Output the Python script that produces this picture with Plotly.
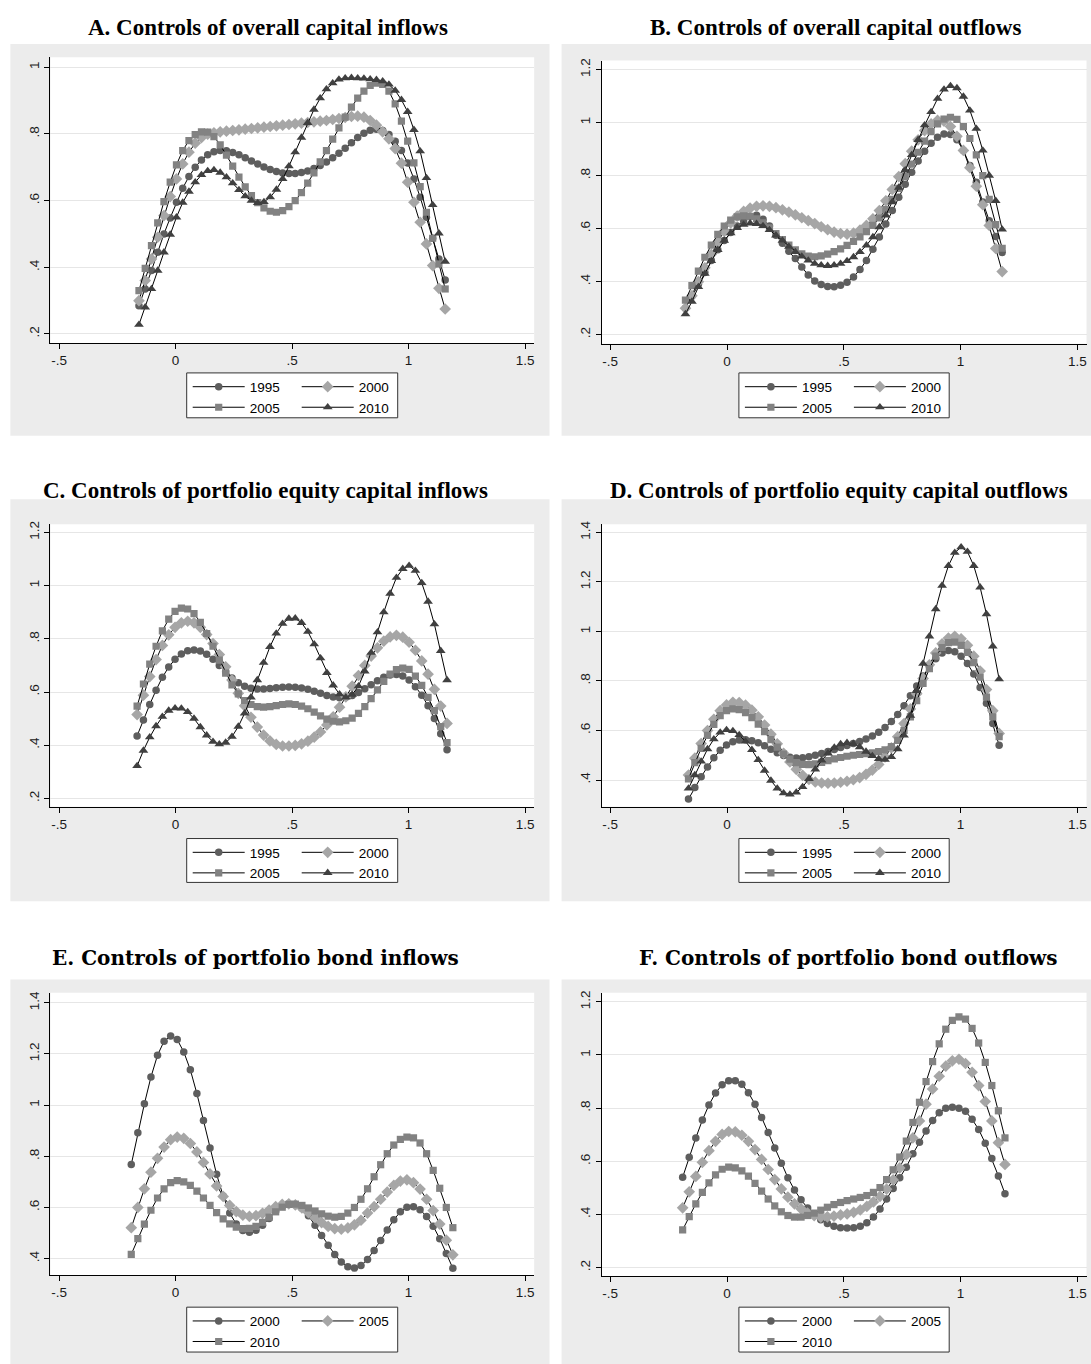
import numpy as np
import plotly.graph_objects as go

W, H = 1091, 1364

# ---------------- data ----------------
X_TICKS = [-0.5, 0, 0.5, 1, 1.5]
X_TICK_TEXT = ["-.5", "0", ".5", "1", "1.5"]

YEARS_4 = ["1995", "2000", "2005", "2010"]
YEARS_3 = ["2000", "2005", "2010"]

# x-grid endpoints of each panel (50 evaluation points)
X_RANGE_A = [-0.157, 1.157]
X_RANGE_B = [-0.178, 1.178]
X_RANGE_C = [-0.165, 1.165]
X_RANGE_D = [-0.165, 1.165]
X_RANGE_E = [-0.190, 1.190]
X_RANGE_F = [-0.190, 1.190]

A_1995 = [0.285, 0.335, 0.39, 0.445, 0.50, 0.548, 0.595, 0.637, 0.672, 0.70,
          0.722, 0.737, 0.746, 0.75, 0.749, 0.744, 0.737, 0.728, 0.719, 0.71,
          0.701, 0.693, 0.687, 0.683, 0.681, 0.681, 0.684, 0.689, 0.696, 0.705,
          0.716, 0.728, 0.742, 0.757, 0.773, 0.789, 0.802, 0.811, 0.814, 0.81,
          0.798, 0.778, 0.75, 0.713, 0.665, 0.61, 0.55, 0.487, 0.425, 0.362]
A_2000 = [0.30, 0.36, 0.425, 0.49, 0.555, 0.612, 0.665, 0.71, 0.745, 0.772,
          0.789, 0.799, 0.803, 0.806, 0.808, 0.81, 0.812, 0.814, 0.816, 0.818,
          0.82, 0.822, 0.824, 0.826, 0.828, 0.83, 0.832, 0.834, 0.836, 0.838,
          0.84, 0.843, 0.846, 0.849, 0.852, 0.853, 0.85, 0.84, 0.826, 0.806,
          0.785, 0.756, 0.712, 0.655, 0.595, 0.535, 0.47, 0.405, 0.337, 0.275]
A_2005 = [0.33, 0.397, 0.465, 0.533, 0.597, 0.655, 0.707, 0.75, 0.78, 0.798,
          0.806, 0.805, 0.792, 0.767, 0.736, 0.703, 0.67, 0.641, 0.615, 0.594,
          0.578, 0.568, 0.565, 0.57, 0.582, 0.6, 0.624, 0.652, 0.683, 0.716,
          0.75, 0.784, 0.818, 0.85, 0.88, 0.907, 0.928, 0.945, 0.952, 0.948,
          0.928, 0.89, 0.838, 0.778, 0.713, 0.642, 0.565, 0.487, 0.41, 0.335]
A_2010 = [0.228, 0.28, 0.335, 0.39, 0.445, 0.498, 0.55, 0.594, 0.627, 0.655,
          0.677, 0.689, 0.692, 0.684, 0.67, 0.652, 0.632, 0.613, 0.6, 0.593,
          0.596, 0.61, 0.633, 0.665, 0.703, 0.745, 0.789, 0.833, 0.873, 0.907,
          0.934, 0.952, 0.963, 0.967, 0.968, 0.967, 0.966, 0.964, 0.962, 0.958,
          0.948, 0.93, 0.902, 0.866, 0.812, 0.748, 0.668, 0.587, 0.502, 0.417]

B_1995 = [0.30, 0.345, 0.39, 0.435, 0.48, 0.52, 0.555, 0.585, 0.61, 0.63,
          0.645, 0.65, 0.635, 0.61, 0.575, 0.545, 0.515, 0.487, 0.455, 0.425,
          0.402, 0.389, 0.382, 0.381, 0.386, 0.398, 0.418, 0.446, 0.48, 0.522,
          0.568, 0.617, 0.668, 0.718, 0.767, 0.813, 0.855, 0.892, 0.922, 0.945,
          0.957, 0.955, 0.935, 0.895, 0.838, 0.775, 0.70, 0.63, 0.57, 0.51]
B_2000 = [0.30, 0.347, 0.40, 0.452, 0.503, 0.55, 0.59, 0.622, 0.647, 0.665,
          0.677, 0.684, 0.686, 0.684, 0.679, 0.671, 0.662, 0.652, 0.641, 0.63,
          0.619, 0.607, 0.596, 0.587, 0.581, 0.579, 0.583, 0.594, 0.612, 0.637,
          0.668, 0.705, 0.748, 0.796, 0.845, 0.892, 0.935, 0.97, 0.995, 1.008,
          1.005, 0.985, 0.948, 0.895, 0.83, 0.76, 0.69, 0.612, 0.525, 0.438]
B_2005 = [0.33, 0.385, 0.44, 0.492, 0.538, 0.578, 0.61, 0.632, 0.644, 0.648,
          0.646, 0.637, 0.622, 0.603, 0.581, 0.559, 0.538, 0.52, 0.505, 0.496,
          0.494, 0.497, 0.504, 0.513, 0.524, 0.537, 0.552, 0.569, 0.589, 0.612,
          0.64, 0.672, 0.71, 0.752, 0.797, 0.843, 0.888, 0.93, 0.966, 0.995,
          1.013, 1.02, 1.012, 0.985, 0.94, 0.878, 0.80, 0.71, 0.615, 0.526]
B_2010 = [0.278, 0.325, 0.38, 0.43, 0.478, 0.52, 0.555, 0.583, 0.603, 0.615,
          0.62, 0.618, 0.61, 0.595, 0.575, 0.555, 0.532, 0.512, 0.495, 0.48,
          0.468, 0.462, 0.46, 0.462, 0.468, 0.478, 0.493, 0.512, 0.537, 0.568,
          0.606, 0.65, 0.70, 0.755, 0.82, 0.878, 0.935, 0.99, 1.04, 1.09,
          1.125, 1.138, 1.13, 1.098, 1.046, 0.977, 0.895, 0.80, 0.705, 0.597]

C_1995 = [0.435, 0.495, 0.553, 0.607, 0.655, 0.694, 0.723, 0.743, 0.755, 0.758,
          0.754, 0.742, 0.723, 0.70, 0.676, 0.653, 0.635, 0.622, 0.614, 0.611,
          0.611, 0.613, 0.616, 0.618, 0.619, 0.618, 0.615, 0.61, 0.603, 0.595,
          0.587, 0.581, 0.578, 0.58, 0.587, 0.598, 0.612, 0.627, 0.642, 0.655,
          0.664, 0.666, 0.66, 0.645, 0.62, 0.588, 0.548, 0.50, 0.443, 0.383]
C_2000 = [0.515, 0.588, 0.658, 0.722, 0.775, 0.815, 0.843, 0.86, 0.866, 0.86,
          0.843, 0.816, 0.782, 0.741, 0.695, 0.645, 0.595, 0.548, 0.505, 0.468,
          0.438, 0.416, 0.403, 0.397, 0.397, 0.399, 0.405, 0.415, 0.43, 0.45,
          0.476, 0.507, 0.543, 0.582, 0.622, 0.662, 0.70, 0.735, 0.766, 0.791,
          0.807, 0.813, 0.806, 0.787, 0.757, 0.717, 0.667, 0.61, 0.547, 0.482]
C_2005 = [0.547, 0.63, 0.705, 0.772, 0.83, 0.874, 0.903, 0.915, 0.912, 0.895,
          0.862, 0.82, 0.772, 0.72, 0.671, 0.627, 0.593, 0.568, 0.553, 0.545,
          0.543, 0.545, 0.549, 0.553, 0.555, 0.553, 0.547, 0.537, 0.524, 0.51,
          0.498, 0.49, 0.488, 0.492, 0.502, 0.52, 0.545, 0.575, 0.608, 0.64,
          0.667, 0.684, 0.69, 0.685, 0.66, 0.625, 0.58, 0.53, 0.47, 0.41]
C_2010 = [0.322, 0.38, 0.43, 0.472, 0.507, 0.53, 0.539, 0.538, 0.525, 0.50,
          0.468, 0.437, 0.413, 0.404, 0.41, 0.432, 0.47, 0.52, 0.58, 0.645,
          0.71, 0.77, 0.82, 0.857, 0.876, 0.877, 0.86, 0.827, 0.78, 0.727,
          0.672, 0.625, 0.592, 0.58, 0.59, 0.622, 0.678, 0.748, 0.825, 0.90,
          0.97, 1.03, 1.063, 1.075, 1.056, 1.01, 0.94, 0.855, 0.755, 0.645]

D_1995 = [0.323, 0.37, 0.413, 0.453, 0.49, 0.52, 0.541, 0.555, 0.562, 0.563,
          0.559, 0.55, 0.538, 0.524, 0.51, 0.499, 0.492, 0.489, 0.49, 0.494,
          0.50, 0.507, 0.515, 0.523, 0.531, 0.539, 0.547, 0.556, 0.566, 0.578,
          0.593, 0.612, 0.636, 0.665, 0.70, 0.74, 0.78, 0.82, 0.858, 0.89,
          0.913, 0.923, 0.918, 0.90, 0.87, 0.828, 0.774, 0.71, 0.628, 0.54]
D_2000 = [0.42, 0.488, 0.547, 0.60, 0.645, 0.68, 0.703, 0.714, 0.713, 0.702,
          0.682, 0.655, 0.622, 0.585, 0.546, 0.508, 0.473, 0.443, 0.419, 0.402,
          0.392, 0.388, 0.387, 0.388, 0.391, 0.395, 0.401, 0.41, 0.423, 0.44,
          0.463, 0.493, 0.53, 0.575, 0.628, 0.687, 0.748, 0.81, 0.865, 0.913,
          0.95, 0.973, 0.98, 0.97, 0.944, 0.90, 0.84, 0.765, 0.68, 0.588]
D_2005 = [0.405, 0.47, 0.528, 0.58, 0.625, 0.66, 0.68, 0.687, 0.684, 0.672,
          0.652, 0.626, 0.595, 0.563, 0.533, 0.505, 0.484, 0.47, 0.463, 0.462,
          0.465, 0.471, 0.478, 0.485, 0.491, 0.496, 0.50, 0.503, 0.506, 0.51,
          0.515, 0.522, 0.535, 0.56, 0.60, 0.655, 0.72, 0.79, 0.85, 0.90,
          0.935, 0.955, 0.957, 0.944, 0.915, 0.874, 0.815, 0.735, 0.655, 0.575]
D_2010 = [0.366, 0.42, 0.475, 0.525, 0.565, 0.592, 0.602, 0.598, 0.582, 0.556,
          0.522, 0.481, 0.438, 0.398, 0.366, 0.347, 0.342, 0.35, 0.372, 0.405,
          0.443, 0.479, 0.508, 0.531, 0.545, 0.55, 0.546, 0.533, 0.515, 0.497,
          0.485, 0.482, 0.493, 0.525, 0.58, 0.66, 0.76, 0.87, 0.98, 1.09,
          1.185, 1.265, 1.318, 1.34, 1.322, 1.265, 1.178, 1.07, 0.94, 0.807]

E_2000 = [0.768, 0.892, 1.005, 1.11, 1.195, 1.25, 1.27, 1.256, 1.208, 1.138,
          1.045, 0.94, 0.832, 0.73, 0.645, 0.578, 0.535, 0.51, 0.503, 0.511,
          0.53, 0.557, 0.585, 0.605, 0.614, 0.611, 0.597, 0.568, 0.53, 0.49,
          0.452, 0.416, 0.387, 0.368, 0.363, 0.373, 0.397, 0.432, 0.471, 0.512,
          0.552, 0.583, 0.601, 0.603, 0.591, 0.565, 0.527, 0.478, 0.42, 0.362]
E_2005 = [0.521, 0.60, 0.673, 0.738, 0.792, 0.836, 0.865, 0.875, 0.87, 0.85,
          0.817, 0.776, 0.731, 0.684, 0.643, 0.608, 0.584, 0.57, 0.565, 0.568,
          0.577, 0.59, 0.603, 0.612, 0.614, 0.61, 0.598, 0.58, 0.56, 0.541,
          0.526, 0.517, 0.515, 0.52, 0.532, 0.55, 0.578, 0.603, 0.632, 0.66,
          0.686, 0.703, 0.708, 0.697, 0.672, 0.632, 0.588, 0.535, 0.472, 0.415]
E_2010 = [0.417, 0.478, 0.535, 0.589, 0.637, 0.673, 0.697, 0.705, 0.70, 0.686,
          0.664, 0.637, 0.608, 0.58, 0.555, 0.536, 0.523, 0.517, 0.518, 0.526,
          0.542, 0.562, 0.583, 0.601, 0.612, 0.613, 0.608, 0.598, 0.586, 0.575,
          0.566, 0.562, 0.565, 0.578, 0.60, 0.632, 0.673, 0.72, 0.767, 0.81,
          0.844, 0.866, 0.875, 0.872, 0.852, 0.81, 0.745, 0.675, 0.60, 0.521]

F_2000 = [0.54, 0.615, 0.688, 0.755, 0.812, 0.857, 0.888, 0.903, 0.903, 0.89,
          0.858, 0.815, 0.765, 0.708, 0.65, 0.593, 0.538, 0.492, 0.455, 0.424,
          0.399, 0.38, 0.366, 0.356, 0.35, 0.349, 0.35, 0.356, 0.369, 0.39,
          0.42, 0.458, 0.498, 0.538, 0.578, 0.628, 0.672, 0.714, 0.753, 0.783,
          0.80, 0.803, 0.80, 0.788, 0.758, 0.72, 0.668, 0.61, 0.545, 0.478]
F_2005 = [0.425, 0.485, 0.543, 0.596, 0.64, 0.675, 0.701, 0.712, 0.711, 0.698,
          0.675, 0.644, 0.607, 0.569, 0.531, 0.496, 0.465, 0.44, 0.421, 0.405,
          0.395, 0.39, 0.391, 0.394, 0.398, 0.402, 0.408, 0.417, 0.43, 0.447,
          0.468, 0.495, 0.53, 0.575, 0.625, 0.688, 0.752, 0.815, 0.872, 0.92,
          0.958, 0.978, 0.984, 0.968, 0.935, 0.885, 0.825, 0.752, 0.67, 0.588]
F_2010 = [0.342, 0.392, 0.44, 0.483, 0.519, 0.549, 0.57, 0.578, 0.575, 0.564,
          0.544, 0.517, 0.488, 0.458, 0.432, 0.41, 0.396, 0.39, 0.39, 0.396,
          0.405, 0.416, 0.427, 0.437, 0.445, 0.452, 0.458, 0.464, 0.471, 0.483,
          0.501, 0.531, 0.568, 0.616, 0.676, 0.746, 0.822, 0.90, 0.975, 1.042,
          1.097, 1.13, 1.143, 1.135, 1.10, 1.045, 0.972, 0.885, 0.79, 0.688]

Y_TICKS_A = [0.2, 0.4, 0.6, 0.8, 1.0]
Y_TEXT_A = [".2", ".4", ".6", ".8", "1"]
Y_TICKS_B = [0.2, 0.4, 0.6, 0.8, 1.0, 1.2]
Y_TEXT_B = [".2", ".4", ".6", ".8", "1", "1.2"]
Y_TICKS_D = [0.4, 0.6, 0.8, 1.0, 1.2, 1.4]
Y_TEXT_D = [".4", ".6", ".8", "1", "1.2", "1.4"]

TITLES = ["A. Controls of overall capital inflows",
          "B. Controls of overall capital outflows",
          "C. Controls of portfolio equity capital inflows",
          "D. Controls of portfolio equity capital outflows",
          "E. Controls of portfolio bond inflows",
          "F. Controls of portfolio bond outflows"]

# ---------------- styles ----------------
STYLE = {
    "1995": dict(symbol="circle", color="#5e5e5e", size=7.5),
    "2000": dict(symbol="diamond", color="#a6a6a6", size=9),
    "2005": dict(symbol="square", color="#828282", size=7.2),
    "2010": dict(symbol="triangle-up", color="#404040", size=8.5),
}
STYLE_EF = {
    "2000": STYLE["1995"],
    "2005": STYLE["2000"],
    "2010": STYLE["2005"],
}

panels = [
    dict(title=TITLES[0], xr=X_RANGE_A, names=YEARS_4, ys=[A_1995, A_2000, A_2005, A_2010],
         yt=Y_TICKS_A, ytt=Y_TEXT_A, yrange=[0.173, 1.03], style=STYLE, tfont="Liberation Serif"),
    dict(title=TITLES[1], xr=X_RANGE_B, names=YEARS_4, ys=[B_1995, B_2000, B_2005, B_2010],
         yt=Y_TICKS_B, ytt=Y_TEXT_B, yrange=[0.166, 1.234], style=STYLE, tfont="Liberation Serif"),
    dict(title=TITLES[2], xr=X_RANGE_C, names=YEARS_4, ys=[C_1995, C_2000, C_2005, C_2010],
         yt=Y_TICKS_B, ytt=Y_TEXT_B, yrange=[0.169, 1.231], style=STYLE, tfont="Liberation Serif"),
    dict(title=TITLES[3], xr=X_RANGE_D, names=YEARS_4, ys=[D_1995, D_2000, D_2005, D_2010],
         yt=Y_TICKS_D, ytt=Y_TEXT_D, yrange=[0.2925, 1.433], style=STYLE, tfont="Liberation Serif"),
    dict(title=TITLES[4], xr=X_RANGE_E, names=YEARS_3, ys=[E_2000, E_2005, E_2010],
         yt=Y_TICKS_D, ytt=Y_TEXT_D, yrange=[0.335, 1.439], style=STYLE_EF, tfont="DejaVu Serif"),
    dict(title=TITLES[5], xr=X_RANGE_F, names=YEARS_3, ys=[F_2000, F_2005, F_2010],
         yt=Y_TICKS_B, ytt=Y_TEXT_B, yrange=[0.1685, 1.234], style=STYLE_EF, tfont="DejaVu Serif"),
]

# ---------------- geometry (pixels) ----------------
PLOT_BOX = [(50.4, 534.2, 53.3, 340.0), (601.6, 1086.5, 56.7, 340.7),
            (50.4, 534.2, 521.7, 805.0), (601.6, 1086.5, 521.7, 805.0),
            (50.4, 534.2, 991.7, 1275.0), (601.6, 1086.5, 991.7, 1275.7)]
GRAY_BOX = [(10.4, 549.5, 40, 433), (561.6, 1091, 40, 433),
            (10.4, 549.5, 496.7, 900), (561.6, 1091, 496.7, 900),
            (10.4, 549.5, 978.3, 1364), (561.6, 1091, 978.3, 1364)]
LEG_BOX = [(186.7, 397.7, 370, 415), (738.9, 949.2, 370, 415),
           (186.7, 397.7, 837, 881), (738.9, 949.2, 837, 881),
           (186.7, 397.7, 1307, 1352), (738.9, 949.2, 1307, 1352)]
TITLE_POS = [(267.5, 23.3), (835.4, 23.3), (265, 488.3), (838.9, 488.3),
             (255.5, 956.7), (848.4, 956.7)]
X_AXIS_RANGE = [-0.537, 1.539]

def fx(px):
    return px / W

def fy(py):
    return 1 - py / H

fig = go.Figure()
shapes = []
annotations = []
layout = dict(width=W, height=H, margin=dict(l=0, r=0, t=0, b=0),
              paper_bgcolor="white", plot_bgcolor="white", autosize=False)

TICK_FONT = dict(family="Liberation Sans, Arial, sans-serif", size=13.5, color="#1a1a1a")
LEG_FONT = dict(family="Liberation Sans, Arial, sans-serif", size=13.5, color="black")

for p, pan in enumerate(panels):
    k = p + 1
    xa = "xaxis" if k == 1 else f"xaxis{k}"
    ya = "yaxis" if k == 1 else f"yaxis{k}"
    xref = "x" if k == 1 else f"x{k}"
    yref = "y" if k == 1 else f"y{k}"
    x0, x1, y0, y1 = PLOT_BOX[p]
    layout[xa] = dict(domain=[fx(x0), fx(x1)], range=X_AXIS_RANGE, anchor=yref,
                      tickvals=X_TICKS, ticktext=X_TICK_TEXT, showgrid=False, zeroline=False,
                      showline=True, linecolor="black", linewidth=1, ticks="outside",
                      ticklen=5, tickcolor="black", tickwidth=1, tickfont=TICK_FONT)
    layout[ya] = dict(domain=[fy(y1), fy(y0)], range=pan["yrange"], anchor=xref,
                      tickvals=pan["yt"], ticktext=pan["ytt"], showgrid=True,
                      gridcolor="#e6e6e6", gridwidth=1, zeroline=False,
                      showline=True, linecolor="black", linewidth=1, ticks="outside",
                      ticklen=5, tickcolor="black", tickwidth=1, tickangle=-90,
                      tickfont=TICK_FONT)
    # gray panel + white plot area
    gx0, gx1, gy0, gy1 = GRAY_BOX[p]
    shapes.append(dict(type="rect", xref="paper", yref="paper", x0=fx(gx0), x1=fx(gx1),
                       y0=fy(gy1), y1=fy(gy0), fillcolor="#ececec", line=dict(width=0),
                       layer="below"))
    shapes.append(dict(type="rect", xref="paper", yref="paper", x0=fx(x0), x1=fx(x1),
                       y0=fy(y1), y1=fy(y0), fillcolor="white", line=dict(width=0),
                       layer="below"))
    # legend box
    lx0, lx1, ly0, ly1 = LEG_BOX[p]
    shapes.append(dict(type="rect", xref="paper", yref="paper", x0=fx(lx0), x1=fx(lx1),
                       y0=fy(ly1), y1=fy(ly0), fillcolor="white",
                       line=dict(color="#333333", width=1), layer="above"))
    # two legend columns
    leg_names = []
    for c in range(2):
        n = 2 * p + c + 1
        name = "legend" if n == 1 else f"legend{n}"
        leg_names.append(name)
        layout[name] = dict(x=fx(lx0 + 1 + c * 109), y=fy(ly0 - 1.5), xanchor="left", yanchor="top",
                            orientation="v", bgcolor="rgba(0,0,0,0)", borderwidth=0,
                            itemwidth=52, tracegroupgap=0, font=LEG_FONT)
    # traces
    xs = np.linspace(pan["xr"][0], pan["xr"][1], 50)
    for s, (nm, yv) in enumerate(zip(pan["names"], pan["ys"])):
        st = pan["style"][nm]
        fig.add_trace(go.Scatter(
            x=xs[:len(yv)], y=yv, name=nm, mode="lines+markers",
            xaxis=xref, yaxis=yref, legend=leg_names[s % 2],
            line=dict(color="black", width=1),
            marker=dict(symbol=st["symbol"], color=st["color"], size=st["size"],
                        line=dict(width=0)),
            showlegend=True))
    # title
    tx, ty = TITLE_POS[p]
    tsize = 23 if p < 4 else 20
    annotations.append(dict(text=pan["title"], xref="paper", yref="paper", x=fx(tx), y=fy(ty),
                            xanchor="center", yanchor="middle", showarrow=False,
                            font=dict(family=pan["tfont"], size=tsize, color="black",
                                      weight="bold")))

layout["shapes"] = shapes
layout["annotations"] = annotations
fig.update_layout(**layout)

fig.write_html("out.html", config={"displayModeBar": False},
               post_script="document.body.style.margin='0';")
